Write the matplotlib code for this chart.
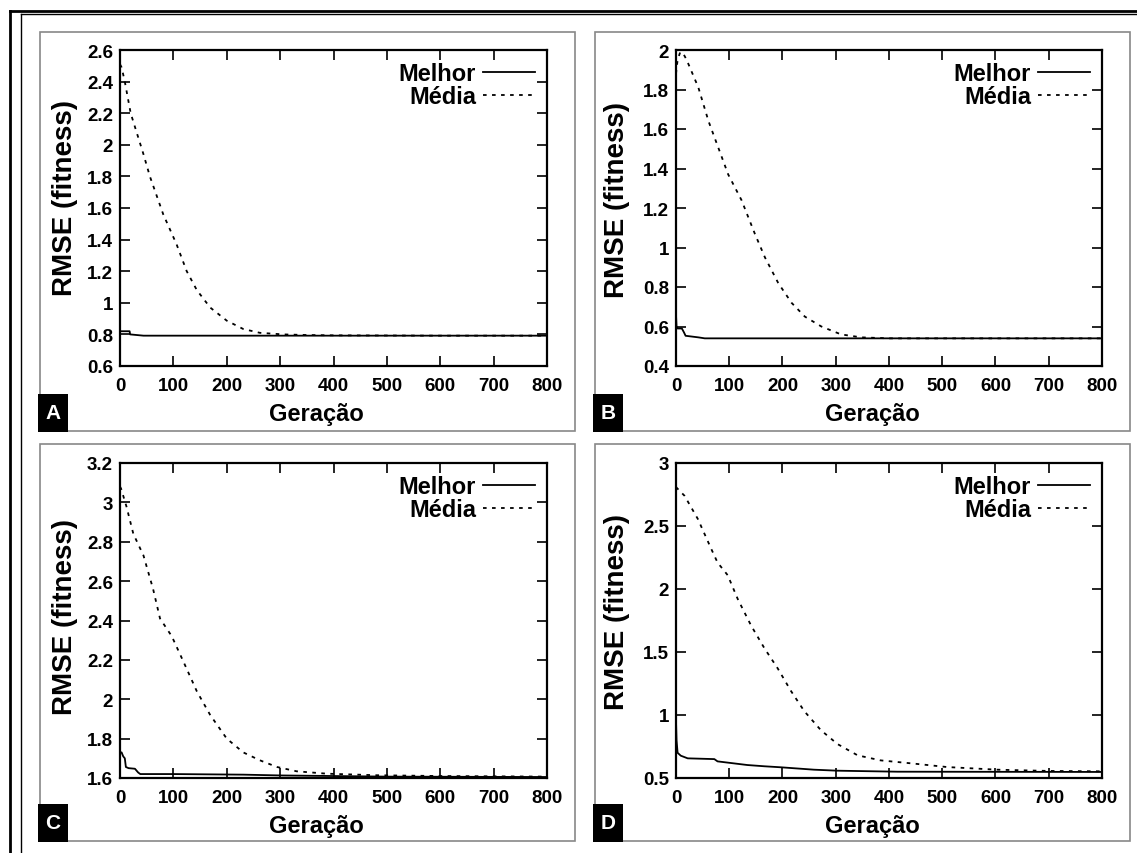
import matplotlib
matplotlib.use("Agg")
import matplotlib.pyplot as plt
from matplotlib.patches import Rectangle
from matplotlib.lines import Line2D
from matplotlib.ticker import FuncFormatter, MultipleLocator

plt.rcParams['font.family'] = ['Liberation Sans', 'DejaVu Sans']
plt.rcParams['font.weight'] = 'bold'

W, H = 1137, 854

# Panel A
a_media_x = [0, 3, 9, 20, 44, 56, 81, 106, 125, 144, 169, 200, 231, 262, 306, 350, 400, 500, 600, 700, 800]
a_media_y = [2.51, 2.49, 2.40, 2.20, 1.94, 1.80, 1.56, 1.37, 1.20, 1.08, 0.97, 0.887, 0.834, 0.81, 0.80,
             0.796, 0.794, 0.793, 0.792, 0.792, 0.792]
a_melhor_x = [0, 18, 19, 44, 800]
a_melhor_y = [0.82, 0.82, 0.80, 0.792, 0.792]

# Panel B
b_media_x = [0, 3, 8, 14, 20, 42, 61, 98, 123, 148, 167, 192, 217, 242, 273, 310, 348, 400, 500, 800]
b_media_y = [1.88, 1.95, 1.99, 1.98, 1.95, 1.81, 1.64, 1.37, 1.24, 1.07, 0.95, 0.82, 0.72, 0.65, 0.60,
             0.56, 0.545, 0.54, 0.54, 0.54]
b_melhor_x = [0, 1, 3, 11, 15, 18, 42, 54, 800]
b_melhor_y = [0.66, 0.60, 0.59, 0.59, 0.57, 0.553, 0.545, 0.54, 0.54]

# Panel C
c_media_x = [0, 2, 12, 25, 44, 62, 75, 97, 119, 144, 169, 200, 231, 262, 294, 331, 387, 481, 600, 800]
c_media_y = [3.08, 3.07, 2.98, 2.84, 2.73, 2.56, 2.41, 2.32, 2.19, 2.04, 1.92, 1.80, 1.73, 1.69, 1.656,
             1.634, 1.622, 1.614, 1.61, 1.607]
c_melhor_x = [0, 3, 6, 9, 11, 16, 28, 34, 38, 100, 231, 300, 400, 500, 800]
c_melhor_y = [1.73, 1.73, 1.71, 1.70, 1.656, 1.65, 1.647, 1.628, 1.62, 1.62, 1.617, 1.613, 1.61, 1.607, 1.605]

# Panel D
d_media_x = [0, 2, 16, 41, 66, 78, 97, 116, 141, 166, 191, 216, 241, 272, 303, 341, 384, 447, 509, 603, 700, 800]
d_media_y = [2.81, 2.80, 2.74, 2.556, 2.32, 2.21, 2.11, 1.92, 1.71, 1.53, 1.37, 1.19, 1.03, 0.88, 0.77,
             0.68, 0.64, 0.614, 0.587, 0.566, 0.556, 0.553]
d_melhor_x = [0, 1, 3, 9, 22, 72, 78, 134, 166, 197, 259, 303, 416, 800]
d_melhor_y = [0.955, 0.80, 0.70, 0.677, 0.656, 0.65, 0.632, 0.603, 0.593, 0.585, 0.566, 0.558, 0.55, 0.548]

panels = [
    ('A', a_melhor_x, a_melhor_y, a_media_x, a_media_y, (0.6, 2.6), 0.2),
    ('B', b_melhor_x, b_melhor_y, b_media_x, b_media_y, (0.4, 2.0), 0.2),
    ('C', c_melhor_x, c_melhor_y, c_media_x, c_media_y, (1.6, 3.2), 0.2),
    ('D', d_melhor_x, d_melhor_y, d_media_x, d_media_y, (0.5, 3.0), 0.5),
]

# pixel boxes (left, top, right, bottom)
axes_px = [(120, 51, 547, 367), (676, 51, 1102, 367), (120, 464, 547, 779), (676, 464, 1102, 779)]
frame_px = [(40, 33, 575, 432), (595, 33, 1130, 432), (40, 445, 575, 842), (595, 445, 1130, 842)]
ylabel_pos = [(-0.098, 0.535), (-0.108, 0.53), (-0.098, 0.515), (-0.108, 0.53)]


def fx(px):
    return px / W


def fy(py):
    return 1 - py / H


fig = plt.figure(figsize=(W / 100, H / 100), dpi=100)

# outer double border
for (x0, y0, x1, y1, lw) in [(10, 12, 1137, 12, 2.0), (21, 15, 1137, 15, 1.0),
                             (10, 12, 10, 854, 2.0), (21, 15, 21, 854, 1.0)]:
    fig.add_artist(Line2D([fx(x0), fx(x1)], [fy(y0), fy(y1)], color='black', lw=lw,
                          transform=fig.transFigure))

for (name, mx, my, dx, dy, ylim, ystep), apx, fpx, ylp in zip(panels, axes_px, frame_px, ylabel_pos):
    l, t, r, b = fpx
    fig.add_artist(Rectangle((fx(l), fy(b)), fx(r - l), (b - t) / H, fill=False,
                             edgecolor='#888888', lw=1.2, transform=fig.transFigure))
    # letter box
    fig.add_artist(Rectangle((fx(l - 2), fy(b + 1)), fx(30), 38 / H, facecolor='black',
                             edgecolor='none', transform=fig.transFigure))
    fig.text(fx(l + 13), fy(b - 18), name, color='white', fontsize=15, fontweight='bold',
             ha='center', va='center')

    l, t, r, b = apx
    ax = fig.add_axes([fx(l), fy(b), fx(r - l), (b - t) / H])
    ax.plot(mx, my, color='black', lw=1.3, label='Melhor')
    ax.plot(dx, dy, color='black', lw=1.3, linestyle=(0, (2, 3)), label='Média')
    ax.set_xlim(0, 800)
    ax.set_ylim(*ylim)
    ax.xaxis.set_major_locator(MultipleLocator(100))
    ax.yaxis.set_major_locator(MultipleLocator(ystep))
    ax.yaxis.set_major_formatter(FuncFormatter(lambda v, p: f"{v:g}"))
    ax.tick_params(direction='in', length=7.5, width=1.2, top=True, right=True,
                   labelsize=13.5, pad=8)
    ax.tick_params(axis='y', pad=5)
    for s in ax.spines.values():
        s.set_linewidth(1.6)
    ax.set_xlabel('Geração', fontsize=17, fontweight='bold')
    ax.xaxis.set_label_coords(0.46, -0.115)
    ax.set_ylabel('RMSE (fitness)', fontsize=20, fontweight='bold')
    ax.yaxis.set_label_coords(*ylp)
    ax.legend(loc='upper right', frameon=False, markerfirst=False, handlelength=2.2,
              handletextpad=0.3, labelspacing=0.0, borderaxespad=0.1,
              prop={'size': 17, 'weight': 'bold'})

fig.savefig('out.png', dpi=100)
